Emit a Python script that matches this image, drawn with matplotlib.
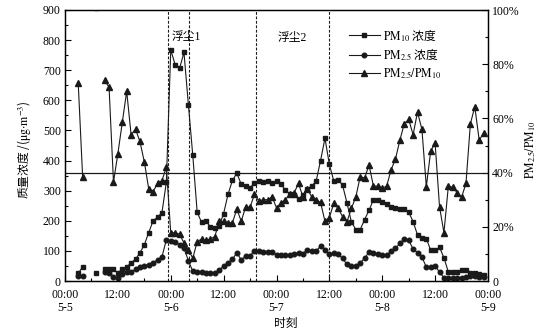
import numpy as np
import matplotlib
matplotlib.use('Agg')
import matplotlib.pyplot as plt
from matplotlib.ticker import MultipleLocator, FixedLocator

plt.rcParams['font.family'] = ['Liberation Serif', 'DejaVu Serif', 'Noto Sans CJK SC']
plt.rcParams['mathtext.fontset'] = 'stix'
plt.rcParams['axes.unicode_minus'] = False

nan = np.nan
# hourly data, hour 0 = 5-5 00:00
hours = np.arange(96)
pm10 = [nan, nan, nan, 25, 47, nan, nan, 27, nan, 39,
        41, 40, 26, 41, 46, 61, 72, 94, 120, 161,
        200, 212, 227, 328, 768, 718, 706, 759, 586, 417,
        228, 195, 199, 180, 175, 183, 224, 288, 334, 358,
        321, 315, 310, 325, 333, 329, 331, 326, 332, 323,
        301, 290, 285, 272, 287, 307, 315, 332, 400, 474,
        387, 332, 337, 318, 259, 196, 171, 171, 204, 235,
        270, 270, 262, 257, 246, 243, 240, 239, 229, 197,
        153, 144, 141, 102, 102, 112, 77, 30, 30, 31,
        36, 38, 28, 26, 23, 21]
pm25 = [nan, nan, nan, 18, 18, nan, nan, nan, nan, 29,
        28, 14, 11, 22, 30, 30, 39, 47, 50, 54,
        61, 70, 80, 137, 133, 129, 121, 108, 68, 32,
        30, 29, 28, 25, 25, 36, 50, 61, 72, 94,
        70, 84, 83, 101, 98, 97, 97, 97, 88, 85,
        85, 88, 91, 94, 91, 104, 99, 99, 116, 104,
        89, 94, 89, 75, 55, 50, 50, 61, 75, 97,
        94, 91, 87, 86, 99, 108, 125, 140, 136, 106,
        94, 80, 46, 46, 51, 29, 11, 9, 9, 9,
        10, 14, 17, 17, 13, 12]
ratio = [nan, nan, nan, 73, 38.5, nan, nan, nan, nan, 74,
         71.5, 36.5, 47, 58.5, 70, 54, 56, 51.5, 44, 34,
         33, 36, 37, 42, 17.8, 17.8, 17.3, 14, 11.5, 8.4,
         14.5, 15.5, 15, 15.5, 16.4, 22, 22, 21.5, 21.5, 26.5,
         22, 27.4, 27.2, 32, 29.5, 30, 30, 31, 27, 28.7,
         30, 32, 32.6, 36, 31, 34, 31, 30, 29, 22,
         23.4, 28.7, 26.8, 23.7, 21.9, 26.8, 31, 38.5, 38, 42.8,
         35, 35, 34.3, 35, 41, 45, 52, 58, 59.6, 54,
         62.3, 56, 34.8, 48, 50.8, 27.4, 17.8, 35, 34.6, 32.6,
         30.9, 36, 58, 64.3, 52, 54.5]
# isolated PM10 reading above the axis range (drawn clipped at the top)
pm10_high_hour = [7]
pm10_high_val = [905]

dust_bounds = [23.3, 28.2, 43.3, 60.0]
dust_labels = ['浮尘1', '浮尘2']
dust_label_pos = [(27.5, 811), (51.6, 807)]
ratio_ref = 40

tick_hours = np.arange(0, 97, 12)
tick_labels = ['00:00\n5-5', '12:00', '00:00\n5-6', '12:00', '00:00\n5-7',
               '12:00', '00:00\n5-8', '12:00', '00:00\n5-9']

cjk = ['Noto Sans CJK SC']

fig = plt.figure(figsize=(5.48, 3.36), dpi=100)
ax = fig.add_axes([65/548, 1-281/336, 423/548, 271/336])
ax2 = ax.twinx()

lc = '#1a1a1a'
l1, = ax.plot(hours, pm10, '-s', color=lc, lw=0.8, ms=3.4,
              label=r'$\mathrm{PM}_{10}$ 浓度')
l2, = ax.plot(hours, pm25, '-o', color=lc, lw=0.8, ms=3.3,
              label=r'$\mathrm{PM}_{2.5}$ 浓度')
ax.plot(pm10_high_hour, pm10_high_val, 's', color=lc, ms=3.4)
l3, = ax2.plot(hours, ratio, '-^', color=lc, lw=0.8, ms=3.8,
               label=r'$\mathrm{PM}_{2.5}/\mathrm{PM}_{10}$')
ax2.axhline(ratio_ref, color=lc, lw=0.9)

for b in dust_bounds:
    ax.axvline(b, color=lc, lw=0.8, ls=(0, (2.5, 1.5)))
for t, (xx, yy) in zip(dust_labels, dust_label_pos):
    ax.text(xx, yy, t, ha='center', va='center', fontsize=8.5)

ax.set_xlim(0, 96)
ax.set_ylim(0, 900)
ax2.set_ylim(0, 100)
ax.set_xticks(tick_hours)
ax.set_xticklabels(tick_labels, linespacing=1.1)
ax.xaxis.set_minor_locator(MultipleLocator(6))
ax.yaxis.set_major_locator(MultipleLocator(100))
ax.yaxis.set_minor_locator(MultipleLocator(50))
ax2.yaxis.set_major_locator(FixedLocator(range(0, 101, 20)))
ax2.yaxis.set_minor_locator(MultipleLocator(10))
ax2.set_yticklabels(['0'] + [f'{v}%' for v in range(20, 101, 20)])

for a in (ax, ax2):
    a.tick_params(which='both', direction='in', labelsize=8.5, width=0.8)
    a.tick_params(which='major', length=4)
    a.tick_params(which='minor', length=2.5)
    for s in a.spines.values():
        s.set_linewidth(0.9)
ax.tick_params(axis='x', pad=6)
ax.tick_params(axis='y', pad=3)
ax2.tick_params(axis='y', pad=3)

ax.set_ylabel(r'质量浓度 /($\mathrm{μg{\cdot}m}^{-3}$)', fontsize=8.5, family=cjk)
ax.yaxis.set_label_coords(-0.076, 0.483)
ax2.set_ylabel(r'$\mathrm{PM}_{2.5}/\mathrm{PM}_{10}$', fontsize=8.5, rotation=90)
ax2.yaxis.set_label_coords(1.083, 0.483)
ax.set_xlabel('时刻', fontsize=8.5)
ax.xaxis.set_label_coords(0.522, -0.135)

ax2.legend(handles=[l1, l2, l3], loc='upper left', bbox_to_anchor=(0.66, 0.955),
           frameon=False, prop={'family': cjk, 'size': 8.5}, handlelength=2.6,
           handletextpad=0.3, labelspacing=0.3, borderaxespad=0)

fig.savefig('out.png', dpi=100)
